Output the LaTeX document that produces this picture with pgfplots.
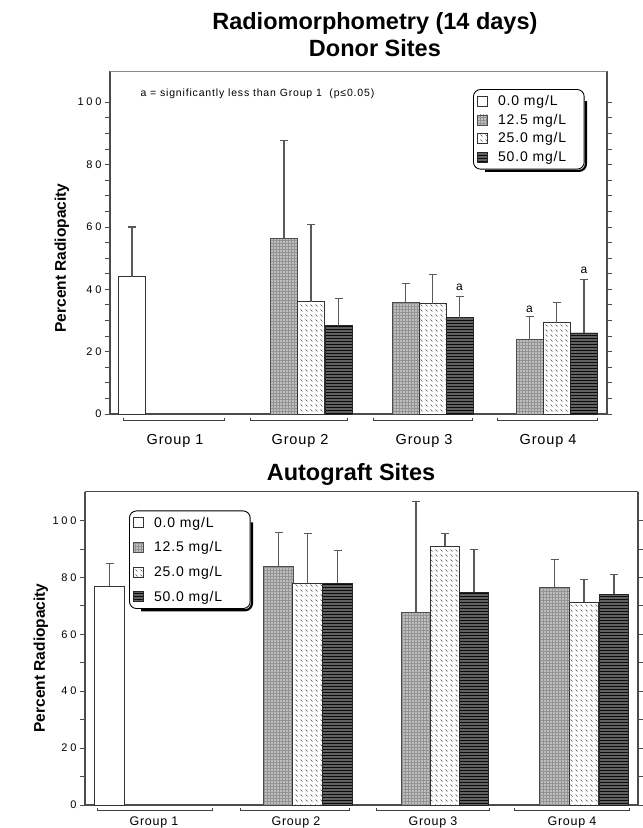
\documentclass[border=0pt]{standalone}
\usepackage{fontspec}
\setmainfont{Liberation Sans}
\newfontfamily\spaced[LetterSpace=6]{Liberation Sans}
\newfontfamily\annf[LetterSpace=8]{Liberation Sans}
\newfontfamily\tickf[LetterSpace=25]{Liberation Sans}
\usepackage{pgfplots}
\pgfplotsset{compat=1.18}
\usetikzlibrary{patterns}

\pgfdeclarepatternformonly{squig}{\pgfqpoint{-1pt}{-1pt}}{\pgfqpoint{6pt}{6pt}}{\pgfqpoint{5pt}{5pt}}{%
  \pgfsetlinewidth{0.45pt}%
  \pgfpathmoveto{\pgfqpoint{0.5pt}{3.5pt}}\pgfpathlineto{\pgfqpoint{2.5pt}{1.5pt}}%
  \pgfusepath{stroke}}

\pgfplotsset{
  eb/.style={error bars/.cd, y dir=plus, y explicit, error mark=-,
    error bar style={line width=1.4pt, draw=black!65},
    error mark options={rotate=90, draw=black!65, line width=1.2pt, mark size=4pt}},
  s0/.style={fill=white, draw=black!80, line width=0.9pt, eb},
  s1/.style={fill=gray!50, draw=black!70, line width=0.6pt, postaction={pattern=grid, pattern color=gray!85}, eb},
  s2/.style={fill=white, draw=black!80, line width=0.6pt, postaction={pattern=squig, pattern color=black!70}, eb},
  s3/.style={fill=black!62, draw=black!85, line width=0.6pt, postaction={pattern=horizontal lines, pattern color=black!95}, eb},
  common/.style={
    scale only axis, anchor=south west, clip=false, enlargelimits=false,
    ymin=0, ymax=110,
    ybar, bar shift=0pt,
    axis x line*=bottom, x axis line style={-},
    axis line style={black!70, line width=1.2pt},
    xtick style={draw=none},
    xticklabels={Group 1,Group 2,Group 3,Group 4},
    ytick={0,20,...,100},
    tick align=outside, major tick length=5pt, minor tick length=5pt,
    ytick style={black!70, line width=0.8pt},
    ytick pos=both, yticklabel pos=left,
    yticklabel style={font=\tickf\fontsize{11}{12}\selectfont},
    /pgf/number format/assume math mode=true,
    ylabel={Percent Radiopacity},
    ylabel style={anchor=center, font=\bfseries\fontsize{15.5}{18}\selectfont},
    title style={anchor=center, align=center, font=\bfseries\fontsize{23.5}{27}\selectfont},
    legend cell align=left,
    legend image code/.code={\draw[##1, sharp corners, line width=0.6pt] (0pt,-5pt) rectangle (10pt,5pt);},
    legend style={draw=black, line width=0.9pt, rounded corners=7pt,
      font=\spaced\fontsize{14}{16}\selectfont, inner xsep=4pt, inner ysep=4pt,
      /tikz/every odd column/.append style={column sep=8pt}},
  }
}

\begin{document}
\begin{tikzpicture}
\path[use as bounding box] (0,0) rectangle (643pt,828pt);

% ---------------- Donor Sites ----------------
\begin{axis}[common,
  at={(110pt,414pt)}, width=497pt, height=343pt,
  xmin=110, xmax=607, bar width=27,
  xtick={175,300,424,548},
  xticklabel style={font=\spaced\fontsize{14.5}{16}\selectfont, yshift=-12pt},
  minor y tick num=3,
  ylabel style={at={(rel axis cs:-0.0966,0.455)}},
  title={Radiomorphometry (14 days)\\Donor Sites},
  title style={at={(rel axis cs:0.533,1.088)}},
  legend style={at={(axis cs:473,104.2)}, anchor=north west, row sep=3pt, name=legtop},
]
\addplot[s0] coordinates {(132,44) +- (0,16)};
\addlegendentry{0.0 mg/L\hspace*{12pt}}
\addplot[s1] coordinates {(284,56.3) +- (0,31.5) (405.5,35.7) +- (0,6.1) (529.5,23.8) +- (0,7.4)};
\addlegendentry{12.5 mg/L\hspace*{12pt}}
\addplot[s2] coordinates {(311,36) +- (0,24.8) (432.5,35.4) +- (0,9.3) (556.5,29.3) +- (0,6.4)};
\addlegendentry{25.0 mg/L\hspace*{12pt}}
\addplot[s3] coordinates {(338.5,28.3) +- (0,8.7) (459.5,30.9) +- (0,6.7) (584,26) +- (0,17.1)};
\addlegendentry{50.0 mg/L\hspace*{12pt}}
\draw[black!45, line width=0.8pt] (rel axis cs:0,1) -- (rel axis cs:1,1);
\node[anchor=west, font=\annf\fontsize{10.5}{12}\selectfont] at (axis cs:137,102.6) {a = significantly less than Group 1\ \ (p≤0.05)};
\node[font=\fontsize{12}{12}\selectfont] at (axis cs:459.5,40.5) {a};
\node[font=\fontsize{12}{12}\selectfont] at (axis cs:529.5,33.5) {a};
\node[font=\fontsize{12}{12}\selectfont] at (axis cs:584,46) {a};
\draw[black!75, line width=0.8pt] (axis cs:123,-1.2) |- (axis cs:224,-2) -- (axis cs:224,-1.2);
\draw[black!75, line width=0.8pt] (axis cs:250,-1.2) |- (axis cs:347,-2) -- (axis cs:347,-1.2);
\draw[black!75, line width=0.8pt] (axis cs:373,-1.2) |- (axis cs:472,-2) -- (axis cs:472,-1.2);
\draw[black!75, line width=0.8pt] (axis cs:497,-1.2) |- (axis cs:597,-2) -- (axis cs:597,-1.2);
\end{axis}
\draw[black, line width=2.2pt, rounded corners=7pt]
  ([shift={(1.3pt,-12pt)}]legtop.north east) -- ([shift={(1.3pt,-1.3pt)}]legtop.south east) -- ([shift={(12pt,-1.3pt)}]legtop.south west);

% ---------------- Autograft Sites ----------------
\begin{axis}[common,
  at={(85pt,23pt)}, width=553pt, height=313pt,
  xmin=85, xmax=638, bar width=29.5,
  xtick={154,296,433,572},
  xticklabel style={font=\spaced\fontsize{12.5}{14}\selectfont, yshift=-3pt},
  minor y tick num=1,
  ylabel style={at={(rel axis cs:-0.0796,0.47)}},
  title={Autograft Sites},
  title style={at={(rel axis cs:0.481,1.038)}},
  legend style={at={(axis cs:129,103.5)}, anchor=north west, row sep=9pt, name=legbot},
]
\addplot[s0] coordinates {(109.5,76.8) +- (0,8.1)};
\addlegendentry{0.0 mg/L\hspace*{22pt}}
\addplot[s1] coordinates {(278.5,83.9) +- (0,11.9) (416,67.7) +- (0,39) (554.5,76.5) +- (0,9.8)};
\addlegendentry{12.5 mg/L\hspace*{22pt}}
\addplot[s2] coordinates {(307.5,77.9) +- (0,17.5) (445,90.9) +- (0,4.5) (584,71.2) +- (0,8.1)};
\addlegendentry{25.0 mg/L\hspace*{22pt}}
\addplot[s3] coordinates {(337.5,77.9) +- (0,11.6) (474,74.7) +- (0,15.1) (614,74) +- (0,7)};
\addlegendentry{50.0 mg/L\hspace*{22pt}}
\draw[black!70, line width=1pt] (rel axis cs:0,1) -- (rel axis cs:1,1);
\draw[black!75, line width=0.8pt] (axis cs:97,-1.2) |- (axis cs:212,-1.9) -- (axis cs:212,-1.2);
\draw[black!75, line width=0.8pt] (axis cs:240,-1.2) |- (axis cs:349,-1.9) -- (axis cs:349,-1.2);
\draw[black!75, line width=0.8pt] (axis cs:376,-1.2) |- (axis cs:489,-1.9) -- (axis cs:489,-1.2);
\draw[black!75, line width=0.8pt] (axis cs:514,-1.2) |- (axis cs:629,-1.9) -- (axis cs:629,-1.2);
\end{axis}
\draw[black, line width=2.2pt, rounded corners=7pt]
  ([shift={(1.3pt,-12pt)}]legbot.north east) -- ([shift={(1.3pt,-1.3pt)}]legbot.south east) -- ([shift={(12pt,-1.3pt)}]legbot.south west);
\end{tikzpicture}
\end{document}
